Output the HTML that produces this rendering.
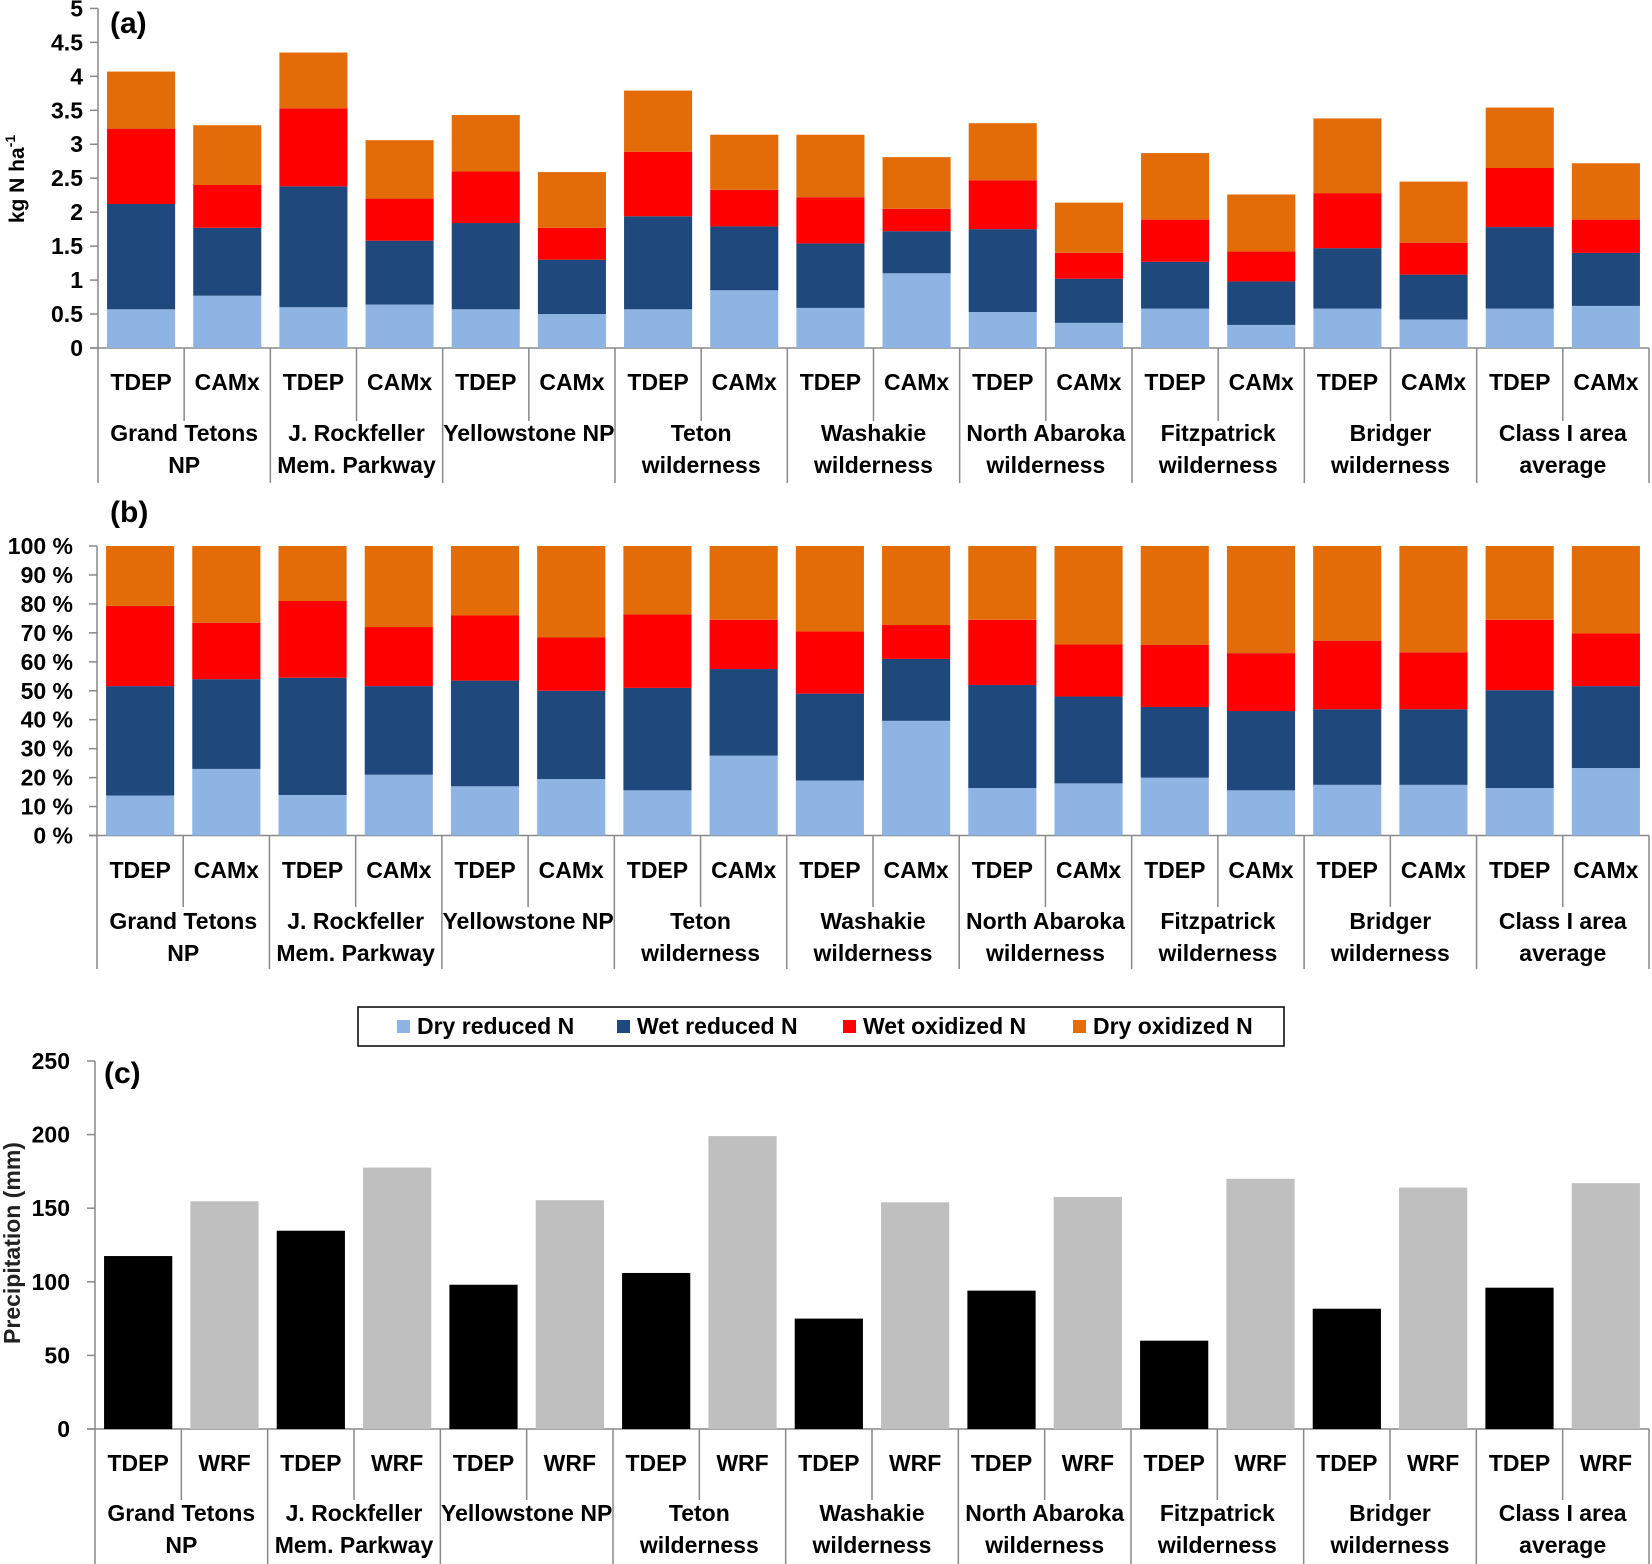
<!DOCTYPE html>
<html><head><meta charset="utf-8"><style>
body{margin:0;background:#fff;}
svg{display:block;font-family:"Liberation Sans",sans-serif;font-weight:bold;}
</style></head><body>
<svg id="chart" width="1652" height="1564" viewBox="0 0 1652 1564" xmlns="http://www.w3.org/2000/svg"></svg>
<script>
const sites = [["Grand Tetons","NP"],["J. Rockfeller","Mem. Parkway"],["Yellowstone NP",""],["Teton","wilderness"],["Washakie","wilderness"],["North Abaroka","wilderness"],["Fitzpatrick","wilderness"],["Bridger","wilderness"],["Class I area","average"]];
const seriesNames = ["Dry reduced N","Wet reduced N","Wet oxidized N","Dry oxidized N"];
// panel (a): cumulative tops, alternating TDEP / CAMx
const aDryRed = [0.57,0.77,0.60,0.64,0.57,0.50,0.57,0.85,0.59,1.10,0.53,0.37,0.58,0.34,0.58,0.42,0.58,0.62];
const aWetRed = [2.12,1.77,2.38,1.58,1.84,1.30,1.94,1.79,1.54,1.72,1.75,1.02,1.27,0.98,1.47,1.08,1.78,1.40];
const aWetOx  = [3.23,2.40,3.53,2.20,2.60,1.77,2.89,2.33,2.22,2.05,2.47,1.40,1.89,1.42,2.28,1.55,2.65,1.89];
const aTotal  = [4.07,3.28,4.35,3.06,3.43,2.59,3.79,3.14,3.14,2.81,3.31,2.14,2.87,2.26,3.38,2.45,3.54,2.72];
const aTicks = ["0","0.5","1","1.5","2","2.5","3","3.5","4","4.5","5"];
// panel (b): cumulative percent
const bDryRed = [13.8,23,14,21,17,19.5,15.6,27.6,19,39.6,16.4,18,20,15.6,17.5,17.5,16.4,23.3];
const bWetRed = [51.6,54,54.5,51.6,53.5,50,51,57.5,49,61,52,48,44.4,43,43.6,43.6,50.2,51.6];
const bWetOx  = [79.3,73.5,81,72,76,68.4,76.4,74.5,70.5,72.7,74.5,66,65.8,63,67.3,63.3,74.5,69.8];
const bTicks = ["0 %","10 %","20 %","30 %","40 %","50 %","60 %","70 %","80 %","90 %","100 %"];
// panel (c): precipitation mm
const cTDEP = [117.5,134.7,98,106,75,94,60,81.7,96];
const cWRF  = [154.7,177.6,155.4,199,154,157.6,170,164,167];
const cTicks = ["0","50","100","150","200","250"];

const svg=document.getElementById('chart');
const NS="http://www.w3.org/2000/svg";
function mk(tag,attrs,parent){const e=document.createElementNS(NS,tag);for(const k in attrs)e.setAttribute(k,attrs[k]);(parent||svg).appendChild(e);return e;}
function txt(s,x,y,size,anchor,parent){const t=mk('text',{x:x,y:y,'font-size':size,'text-anchor':anchor||'middle'},parent);t.textContent=s;return t;}
const colors=["#8EB4E3","#1F497D","#FF0000","#E36C09"];
const AX="#888";

function frame(g,x0,x1,yTop,yBase,ticks,maxV,sub,labY,siteY1,shortEnd,longEnd,tickLabX){
  const yOf=v=>yBase-(v/maxV)*(yBase-yTop);
  mk('line',{x1:x0,y1:yTop,x2:x0,y2:yBase,stroke:AX,'stroke-width':1.5},g);
  ticks.forEach((t,i)=>{const v=i*maxV/(ticks.length-1);const y=yOf(v);
    mk('line',{x1:x0-8,y1:y,x2:x0,y2:y,stroke:AX,'stroke-width':1.5},g);
    const l=txt(t,tickLabX,y+8,23,'end',g);
    
    });
  mk('line',{x1:x0-8,y1:yBase,x2:x1,y2:yBase,stroke:AX,'stroke-width':1.5},g);
  const slot=(x1-x0)/18;
  for(let i=0;i<=18;i++){const x=x0+i*slot;mk('line',{x1:x,y1:yBase,x2:x,y2:i%2==0?longEnd:shortEnd,stroke:AX,'stroke-width':1.5},g);}
  for(let i=0;i<18;i++){const l=txt(sub[i%2],x0+(i+0.5)*slot,labY,23,'middle',g);
    
    }
  sites.forEach((s,i)=>{const cx=x0+(i+0.5)*slot*2;
    const l1=txt(s[0],cx,siteY1,23,'middle',g);
    
    
    if(s[1]){const l2=txt(s[1],cx,siteY1+32,23,'middle',g);
      
      }});
  return {yOf,slot};
}

function stacked(name,x0,x1,yTop,yBase,maxV,layers,ticks,labY,siteY1,shortEnd,longEnd,tickLabX){
  const g=mk('g',{});
  
  
  const {yOf,slot}=frame(g,x0,x1,yTop,yBase,ticks,maxV,["TDEP","CAMx"],labY,siteY1,shortEnd,longEnd,tickLabX);
  const bw=slot*0.79;
  for(let i=0;i<18;i++){let prev=0;
    layers.forEach((arr,k)=>{const v=arr[i];const r=mk('rect',{x:x0+i*slot+(slot-bw)/2,y:yOf(v),width:bw,height:yOf(prev)-yOf(v),fill:colors[k]},g);
      
      prev=v;});}
  return g;
}
const full=new Array(18).fill(100);
stacked('panel-a-chart',98,1649,8.4,348,5,[aDryRed,aWetRed,aWetOx,aTotal],aTicks,390,441,421,483,83);
stacked('panel-b-chart',97,1649,546,835.5,100,[bDryRed,bWetRed,bWetOx,full],bTicks,878,929,907,969,73);

// panel c
const gc=mk('g',{});


const fc=frame(gc,95,1649,1061,1429,cTicks,250,["TDEP","WRF"],1471,1521,1500,1564,70);
const bwc=fc.slot*0.79;
for(let i=0;i<9;i++){[cTDEP,cWRF].forEach((arr,k)=>{const v=arr[i];const j=i*2+k;
  const r=mk('rect',{x:95+j*fc.slot+(fc.slot-bwc)/2,y:fc.yOf(v),width:bwc,height:1429-fc.yOf(v),fill:k?"#BFBFBF":"#000"},gc);
  
  });}

// panel letters
[["(a)",110,33],["(b)",110,522],["(c)",104,1083]].forEach(p=>{const t=txt(p[0],p[1],p[2],30,'start');
  
  });

// axis titles
const ya=mk('text',{transform:'translate(24,179) rotate(-90)','font-size':21,'text-anchor':'middle'});


ya.innerHTML='kg N ha<tspan dy="-9" font-size="14">-1</tspan>';
const yc=mk('text',{transform:'translate(20,1243) rotate(-90)','font-size':23,'text-anchor':'middle',fill:'#222'});


yc.textContent='Precipitation (mm)';

// legend
const lg=mk('g',{});


mk('rect',{x:358,y:1007,width:926,height:39,fill:'#fff',stroke:'#000','stroke-width':1.5},lg);
const lx=[397,617,843,1073];
seriesNames.forEach((n,k)=>{const e=mk('g',{},lg);
  
  
  mk('rect',{x:lx[k],y:1020,width:13,height:13,fill:colors[k]},e);
  txt(n,lx[k]+20,1034,23,'start',e);});
</script>
</body></html>
